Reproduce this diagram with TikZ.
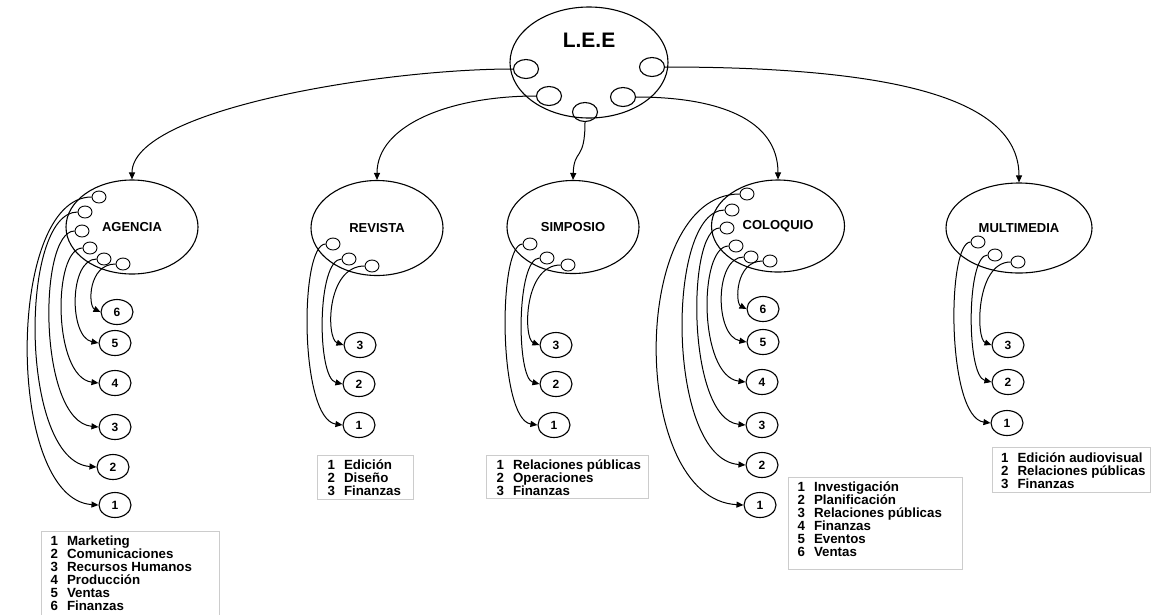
\documentclass[tikz,border=0pt]{standalone}
\usepackage{fontspec}
\setmainfont{Liberation Sans}
\usetikzlibrary{arrows.meta,shapes.geometric,calc}
\newcommand\subconn[3]{\draw[conn] let \p1=(#1.west), \p2=(#2.west), \n1={(8*#3-\x1-\x2)/6} in (\p1) .. controls (\n1,\y1) and (\n1,{\y2+6pt}) .. (\p2);}
\newcommand\li[2]{\strut\makebox[16.5pt][l]{#1}#2}
\newcommand\legfont{\bfseries\fontsize{13.3}{12.9}\selectfont\lineskiplimit=-20pt\relax}
\begin{document}
\begin{tikzpicture}[x=1pt,y=-1pt,line width=1.1pt,
  big/.style={draw, ellipse, inner sep=0pt, font=\bfseries\fontsize{13}{13}\selectfont},
  dot/.style={draw, ellipse, minimum width=14pt, minimum height=12pt, inner sep=0pt, line width=0.9pt},
  hdot/.style={draw, ellipse, minimum width=25pt, minimum height=19pt, inner sep=0pt},
  num/.style={draw, ellipse, minimum width=32pt, minimum height=25pt, inner sep=0pt, font=\bfseries\fontsize{12}{12}\selectfont},
  conn/.style={-{Triangle[length=7pt,width=6pt]}, line width=1pt},
  legend/.style={draw=black!20, line width=0.8pt, anchor=north west, inner sep=0pt},
  legtext/.style={anchor=north west, inner sep=0pt, align=left, font=\legfont}]
\fill[white] (0,0) rectangle (1153,614);
\useasboundingbox (0,0) rectangle (1153,614);

% L.E.E
\node[big, minimum width=158pt, minimum height=111pt] (lee) at (589,62.5) {};
\node[font=\bfseries\fontsize{21}{21}\selectfont, inner sep=0pt] (leelabel) at (589,40) {L.E.E};
\node[hdot] (l1) at (526,69) {};
\node[hdot] (l5) at (652,67) {};
\node[hdot] (l2) at (549,96) {};
\node[hdot] (l3) at (585,112) {};
\node[hdot] (l4) at (623,97) {};

% children
\node[big, minimum width=132pt, minimum height=94pt] (agencia) at (132,227) {AGENCIA};
\node[big, minimum width=132pt, minimum height=95pt] (revista) at (377,228) {REVISTA};
\node[big, minimum width=132pt, minimum height=93pt] (simposio) at (573,227) {SIMPOSIO};
\node[big, minimum width=133pt, minimum height=92pt] (coloquio) at (778,226) {COLOQUIO};
\node[big, minimum width=146pt, minimum height=90pt] (multimedia) at (1019,228) {MULTIMEDIA};

\draw[conn] (l1.west) .. controls (380,69) and (132,110) .. (agencia.north);
\draw[conn] (l2.west) .. controls (450,96) and (377,125) .. (revista.north);
\draw[conn] (l3.south) .. controls (585,162) and (574,148) .. (simposio.north);
\draw[conn] (l4.east) .. controls (720,97) and (778,120) .. (coloquio.north);
\draw[conn] (l5.east) .. controls (900,67) and (1019,100) .. (multimedia.north);

% AGENCIA
\node[dot] (ad1) at (99,197) {};
\node[dot] (ad2) at (85,212) {};
\node[dot] (ad3) at (82,231) {};
\node[dot] (ad4) at (90,248) {};
\node[dot] (ad5) at (104,259) {};
\node[dot] (ad6) at (123,264) {};
\node[num] (an6) at (117,312) {6};
\node[num] (an5) at (115,343) {5};
\node[num] (an4) at (115,383) {4};
\node[num] (an3) at (115,427) {3};
\node[num] (an2) at (113,467) {2};
\node[num] (an1) at (115,505) {1};
\subconn{ad1}{an1}{28}
\subconn{ad2}{an2}{36}
\subconn{ad3}{an3}{50}
\subconn{ad4}{an4}{62}
\subconn{ad5}{an5}{76}
\subconn{ad6}{an6}{93}

% REVISTA
\node[dot] (rd1) at (333,244) {};
\node[dot] (rd2) at (349,259) {};
\node[dot] (rd3) at (372,266) {};
\node[num] (rn3) at (360,345) {3};
\node[num] (rn2) at (359,384) {2};
\node[num] (rn1) at (359,425) {1};
\subconn{rd1}{rn1}{308}
\subconn{rd2}{rn2}{323}
\subconn{rd3}{rn3}{333}

% SIMPOSIO
\node[dot] (sd1) at (530,244) {};
\node[dot] (sd2) at (547,258) {};
\node[dot] (sd3) at (568,265) {};
\node[num] (sn3) at (556,345) {3};
\node[num] (sn2) at (556,384) {2};
\node[num] (sn1) at (554,425) {1};
\subconn{sd1}{sn1}{506}
\subconn{sd2}{sn2}{522}
\subconn{sd3}{sn3}{530}

% COLOQUIO
\node[dot] (cd1) at (747,194) {};
\node[dot] (cd2) at (732,210) {};
\node[dot] (cd3) at (727,228) {};
\node[dot] (cd4) at (736,246) {};
\node[dot] (cd5) at (751,257) {};
\node[dot] (cd6) at (770,261) {};
\node[num] (cn6) at (763,309) {6};
\node[num] (cn5) at (763,342) {5};
\node[num] (cn4) at (762,382) {4};
\node[num] (cn3) at (762,425) {3};
\node[num] (cn2) at (762,465) {2};
\node[num] (cn1) at (760,505) {1};
\subconn{cd1}{cn1}{657}
\subconn{cd2}{cn2}{683}
\subconn{cd3}{cn3}{698}
\subconn{cd4}{cn4}{708}
\subconn{cd5}{cn5}{722}
\subconn{cd6}{cn6}{740}

% MULTIMEDIA
\node[dot] (md1) at (978,242) {};
\node[dot] (md2) at (995,255) {};
\node[dot] (md3) at (1018,262) {};
\node[num] (mn3) at (1008,345) {3};
\node[num] (mn2) at (1008,382) {2};
\node[num] (mn1) at (1007,423) {1};
\subconn{md1}{mn1}{955}
\subconn{md2}{mn2}{972}
\subconn{md3}{mn3}{982}

% legends
\node[legend, minimum width=178pt, minimum height=95pt] (boxA) at (41,531) {};
\node[legtext] (textA) at (50,535.3) {\li{1}{Marketing}\\\li{2}{Comunicaciones}\\\li{3}{Recursos Humanos}\\\li{4}{Producción}\\\li{5}{Ventas}\\\li{6}{Finanzas}};
\node[legend, minimum width=96pt, minimum height=44pt] (boxR) at (317,455) {};
\node[legtext] (textR) at (327,459.3) {\li{1}{Edición}\\\li{2}{Diseño}\\\li{3}{Finanzas}};
\node[legend, minimum width=162pt, minimum height=43pt] (boxS) at (486,455) {};
\node[legtext] (textS) at (496,459.3) {\li{1}{Relaciones públicas}\\\li{2}{Operaciones}\\\li{3}{Finanzas}};
\node[legend, minimum width=174pt, minimum height=92pt] (boxC) at (788,477) {};
\node[legtext] (textC) at (797,481.3) {\li{1}{Investigación}\\\li{2}{Planificación}\\\li{3}{Relaciones públicas}\\\li{4}{Finanzas}\\\li{5}{Eventos}\\\li{6}{Ventas}};
\node[legend, minimum width=158pt, minimum height=45pt] (boxM) at (992,447) {};
\node[legtext] (textM) at (1000.5,452.3) {\li{1}{Edición audiovisual}\\\li{2}{Relaciones públicas}\\\li{3}{Finanzas}};
\end{tikzpicture}
\end{document}
